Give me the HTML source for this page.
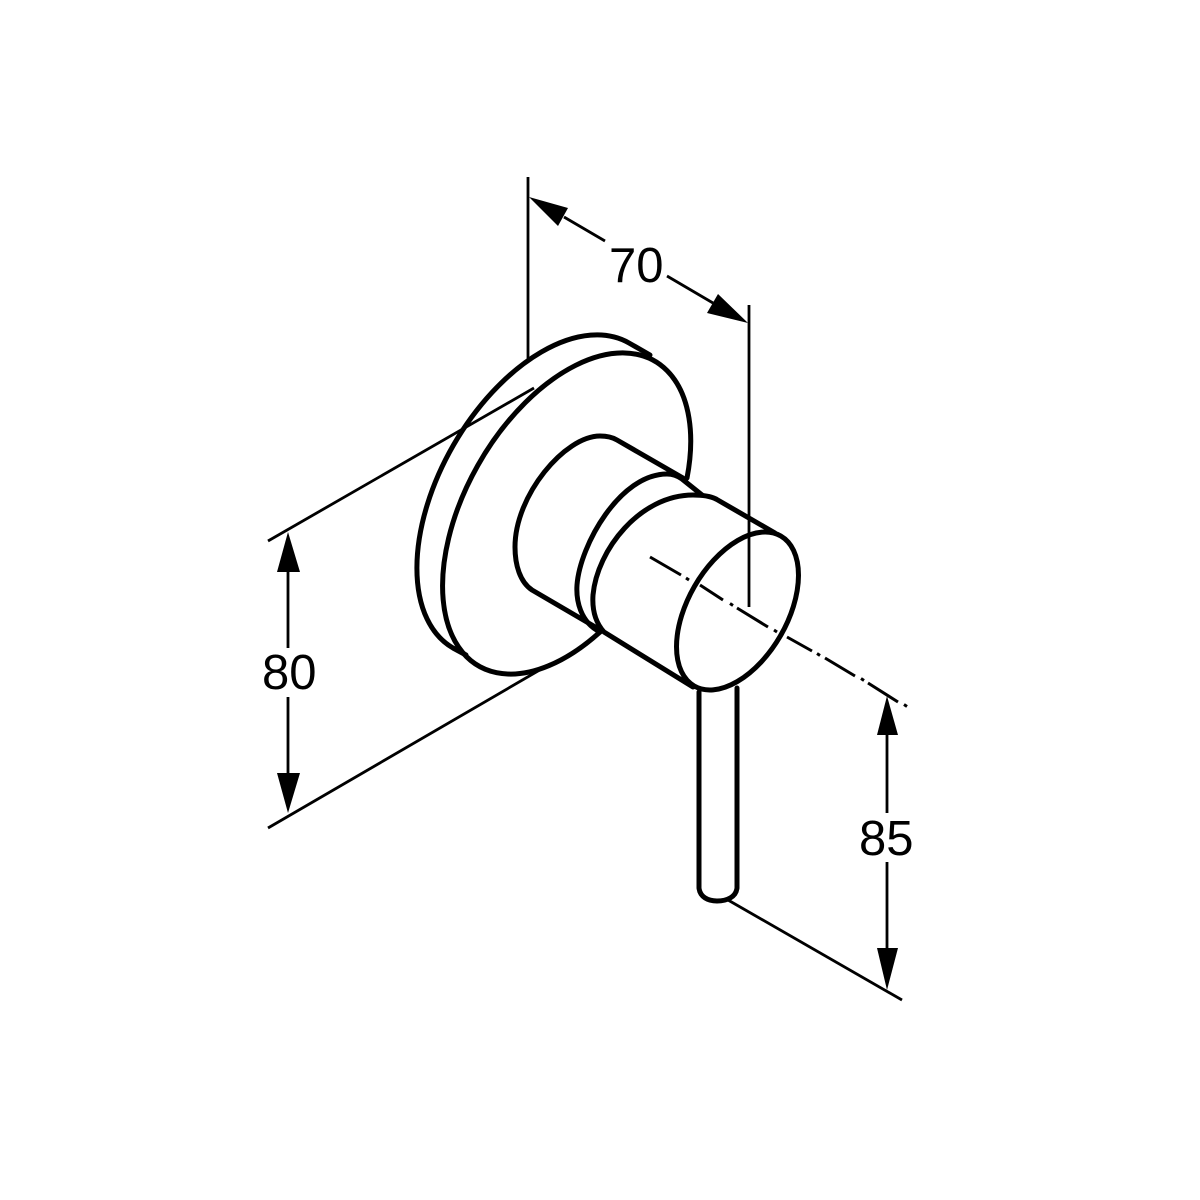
<!DOCTYPE html>
<html><head><meta charset="utf-8"><style>
html,body{margin:0;padding:0;background:#fff}
svg{display:block}
text{font-family:"Liberation Sans",Arial,sans-serif;font-size:49px;fill:#000}
</style></head><body>
<svg width="1200" height="1200" viewBox="0 0 1200 1200" xmlns="http://www.w3.org/2000/svg">
<rect width="1200" height="1200" fill="#fff"/>
<g fill="none" stroke="#000" stroke-width="2.8" stroke-linecap="butt">
<path d="M528 177V360"/>
<path d="M749 305V607"/>
<path d="M268 541L534 388"/>
<path d="M268 828L550 664"/>
<path d="M728 900L902 1000"/>
<path d="M564 217L605 241M667 276L713 303"/>
<path d="M288 570V648M288 697V775"/>
<path d="M887 733V813M887 862V950"/>
</g>
<g fill="#000" stroke="none">
<path d="M529 197L568 208L558 226Z"/>
<path d="M748 323L718 294L707 313Z"/>
<path d="M288 532L277 572H300Z"/>
<path d="M288 813L277 773H300Z"/>
<path d="M887 696L877 735H898Z"/>
<path d="M887 990L877 948H898Z"/>
</g>
<g fill="none" stroke="#000" stroke-width="5" stroke-linecap="round" stroke-linejoin="round">
<path d="M650 355L629 343A101 176 30 0 0 453 648L466 655"/>
<path d="M687 478A101 176 30 1 0 600 632"/>
<path d="M683 478L617 440C612 437 606 436 600 436C565 436 515 495 515 547C515 565 520 582 532 590L597 628"/>
<path d="M702 495L682 479Q675 474 667 474C620 474 580 545 577 585C576 600 580 622 600 632"/>
<path d="M716 499C710 496 703 495 693 495C640 495 597 550 593 595C592 610 595 622 604 632L693 687"/>
<path d="M716 499L775 533"/>
<ellipse cx="737.5" cy="611" rx="49.6" ry="86.6" transform="rotate(30 737.5 611)"/>
<path d="M699 692V888C700 897 708 901 717 901C727 901 736 897 737 888V688"/>
</g>
<g fill="none" stroke="#000" stroke-width="3" stroke-linecap="butt">
<path d="M650 557L681 575M686 578L689 580M700 585L723 600M730 603.500L733 605.500M737 608L768 627M774 630L777 632M787 637L812 651M817 653.500L820 655.500M825 658L855 676M861 678.500L864 680.500M868 683L898 702M904 704.500L907 706.500"/>
</g>
<text x="609" y="282">70</text>
<text x="262" y="689">80</text>
<text x="859" y="855">85</text>
</svg>
</body></html>
